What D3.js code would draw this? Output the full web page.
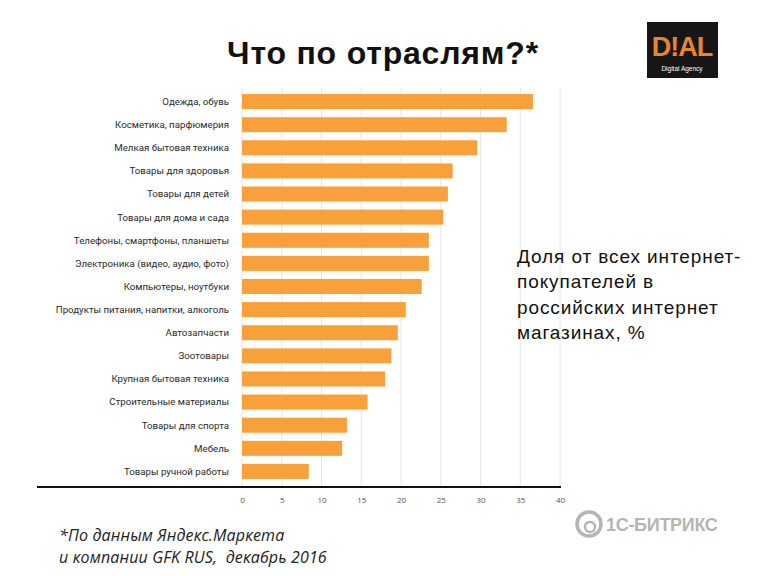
<!DOCTYPE html>
<html><head><meta charset="utf-8">
<script src="https://cdn.jsdelivr.net/npm/d3@7"></script>
<style>body{margin:0;background:#fff}svg{display:block}text{white-space:pre}</style>
</head><body>
<svg id="c" width="768" height="576"></svg>
<script>
const categories = ["Одежда, обувь","Косметика, парфюмерия","Мелкая бытовая техника","Товары для здоровья","Товары для детей","Товары для дома и сада","Телефоны, смартфоны, планшеты","Электроника (видео, аудио, фото)","Компьютеры, ноутбуки","Продукты питания, напитки, алкоголь","Автозапчасти","Зоотовары","Крупная бытовая техника","Строительные материалы","Товары для спорта","Мебель","Товары ручной работы"];
const values = [36.6,33.3,29.6,26.5,25.9,25.3,23.5,23.5,22.6,20.6,19.6,18.8,18.0,15.8,13.2,12.6,8.4];
const ticks = [0,5,10,15,20,25,30,35,40];
const titleText = "Что по отраслям?*";
const noteLines = ["Доля от всех интернет-","покупателей в","российских интернет","магазинах, %"];
const footLines = ["*По данным Яндекс.Маркета","и компании GFK RUS,  декабрь 2016"];

const svg = d3.select("#c");
const x = d3.scaleLinear().domain([0,40]).range([242,560]);
const y = d3.scaleBand().domain(categories).range([90,483]).paddingInner(0.35).paddingOuter(0.175);

// gridlines
svg.append("g").selectAll("line").data(ticks).join("line")
  .attr("x1",d=>x(d)).attr("x2",d=>x(d)).attr("y1",88).attr("y2",487)
  .attr("stroke","#e6e6e6").attr("stroke-width",1);

// bars
svg.append("g").selectAll("rect").data(values).join("rect")
  .attr("x",x(0)).attr("y",(d,i)=>y(categories[i]))
  .attr("width",d=>x(d)-x(0)).attr("height",y.bandwidth())
  .attr("fill","#f8a13a");

// category labels
svg.append("g").selectAll("text").data(categories).join("text")
  .attr("x",229).attr("y",d=>y(d)+y.bandwidth()/2).attr("dy","0.35em")
  .attr("text-anchor","end").attr("font-family","Roboto, sans-serif")
  .attr("font-size",9.7).attr("fill","#2a2a2a").text(d=>d);

// axis
const ax = d3.axisBottom(x).tickValues(ticks).tickSize(0).tickPadding(10);
const g = svg.append("g").attr("transform","translate(0,487)").call(ax);
g.select(".domain").remove();
g.selectAll("text").attr("font-family","'Open Sans', sans-serif").attr("font-size",8).attr("fill","#555");
svg.append("line").attr("x1",37).attr("x2",561).attr("y1",487).attr("y2",487).attr("stroke","#111").attr("stroke-width",2.2);

// title
svg.append("text").attr("x",383).attr("y",64).attr("text-anchor","middle")
  .attr("font-family","'Liberation Sans', Arial, sans-serif").attr("font-weight","bold")
  .attr("font-size",32).attr("letter-spacing",0.8).attr("fill","#111").text(titleText);

// note text
svg.append("g").selectAll("text").data(noteLines).join("text")
  .attr("x",517).attr("y",(d,i)=>263+i*25.3)
  .attr("font-family","'Liberation Sans', Arial, sans-serif").attr("font-size",19).attr("letter-spacing",0.9).attr("fill","#111").text(d=>d);

// footnote
svg.append("g").selectAll("text").data(footLines).join("text")
  .attr("x",59).attr("y",(d,i)=>541+i*22)
  .attr("font-family","'Open Sans', sans-serif").attr("font-style","italic").attr("font-size",16).attr("letter-spacing",0.15).attr("fill","#222").text(d=>d);

// DIAL logo
const lg = svg.append("g");
lg.append("rect").attr("x",647).attr("y",22).attr("width",71).attr("height",56).attr("fill","#161616");
lg.append("text").attr("x",682).attr("y",56).attr("text-anchor","middle").attr("font-family","'Liberation Sans', Arial, sans-serif")
  .attr("font-size",27).attr("font-weight","bold").attr("letter-spacing",-1).attr("fill","#e7872d").text("D!AL");
lg.append("text").attr("x",682).attr("y",71).attr("text-anchor","middle").attr("font-family","'Liberation Sans', Arial, sans-serif")
  .attr("font-size",6.5).attr("fill","#fff").text("Digital Agency");

// 1C-Bitrix logo
const bl = svg.append("g");
bl.append("circle").attr("cx",589).attr("cy",524).attr("r",12).attr("fill","none").attr("stroke","#b5b5b5").attr("stroke-width",3.5);
bl.append("circle").attr("cx",590).attr("cy",527).attr("r",5).attr("fill","none").attr("stroke","#b5b5b5").attr("stroke-width",2.5);
bl.append("text").attr("x",606).attr("y",531).attr("font-family","'Liberation Sans', Arial, sans-serif").attr("font-weight","bold")
  .attr("font-size",18).attr("letter-spacing",-0.3).attr("fill","#b5b5b5").text("1С-БИТРИКС");
</script>
</body></html>
